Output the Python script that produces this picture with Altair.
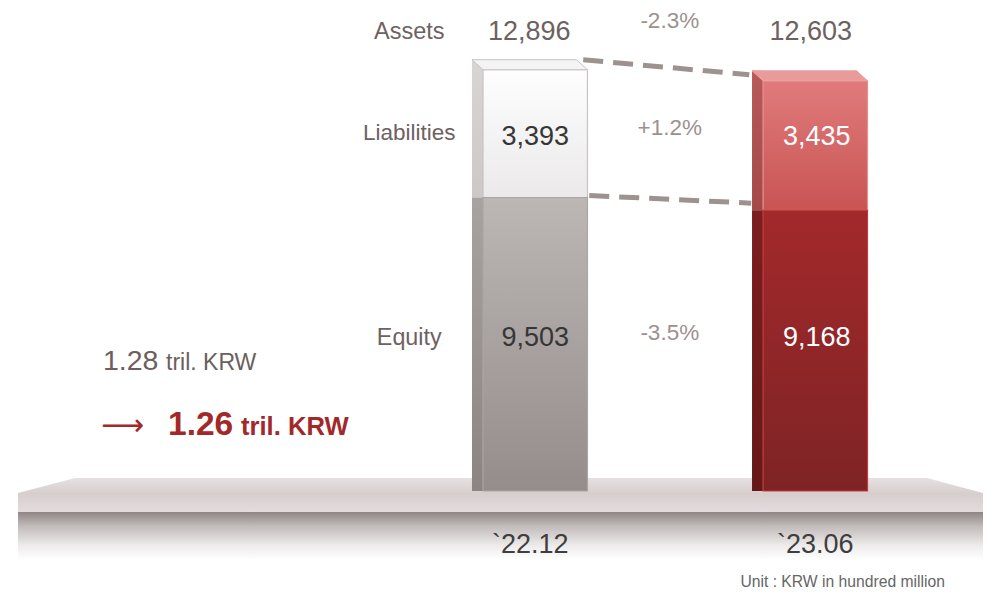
import altair as alt
import pandas as pd

# ---------------- data ----------------
periods = ["`22.12", "`23.06"]
assets = [12896, 12603]
liabilities = [3393, 3435]
equity = [9503, 9168]
row_names = ["Assets", "Liabilities", "Equity"]
changes = ["-2.3%", "+1.2%", "-3.5%"]
before_total = "1.28"
after_total = "1.26"
total_unit = "tril. KRW"
unit_note = "Unit : KRW in hundred million"

# ---------------- layout / style ----------------
W, H = 977, 585
Y_DOMAIN = [-998, 14535]
FLOOR = 1710  # value where the bars meet the platform
FONT = "Liberation Sans, Arial, sans-serif"
BROWN = "#6d625f"
PCT = "#9c918e"

xscale = alt.Scale(type="band", domain=periods, range=[475, 859.5], paddingInner=0.627, paddingOuter=0)
yscale = alt.Scale(domain=Y_DOMAIN, nice=False, zero=False)
X = alt.X("period:N", scale=xscale, axis=None)


def grad(stops, vertical=True):
    return alt.Gradient(
        gradient="linear",
        stops=[alt.GradientStop(color=c, offset=o) for o, c in stops],
        x1=0, x2=0 if vertical else 1, y1=0, y2=1 if vertical else 0,
    )


one = alt.Data(values=[{}])

seg_rows = []
for i, p in enumerate(periods):
    seg_rows.append({"period": p, "segment": "Liabilities", "lo": equity[i], "hi": assets[i],
                     "label": f"{liabilities[i]:,}", "idx": i})
    seg_rows.append({"period": p, "segment": "Equity", "lo": FLOOR, "hi": equity[i],
                     "label": f"{equity[i]:,}", "idx": i})
segs = pd.DataFrame(seg_rows)

styles = {
    (0, "Liabilities"): dict(front=[(0, "#fefefe"), (1, "#ebe9e9")], stroke="#c8c2c1",
                             side=[(0, "#d9d5d4"), (1, "#cdc8c7")]),
    (0, "Equity"): dict(front=[(0, "#bcb6b4"), (1, "#948d8b")], stroke="#aaa4a2",
                        side=[(0, "#a8a2a0"), (1, "#8b8482")]),
    (1, "Liabilities"): dict(front=[(0, "#e07b7b"), (1, "#c95454")], stroke="#e68f8f",
                             side=[(0, "#b65a5a"), (1, "#a44848")]),
    (1, "Equity"): dict(front=[(0, "#a3292b"), (1, "#7e2325")], stroke="#c13b3c",
                        side=[(0, "#7c1e20"), (1, "#661819")]),
}
tops = {0: ("#f5f4f4", "#c8c2c1"), 1: ("#e99b9b", "#eba0a0")}

layers = []

# ---- platform ----
layers.append(
    alt.Chart(one).mark_rect(fill=grad([(0, "#8f8684"), (0.3, "#c2bcbb"), (0.7, "#eeebeb"), (1, "#ffffff")]))
    .encode(x=alt.value(10), x2=alt.value(975), y=alt.value(504), y2=alt.value(552))
)
layers.append(
    alt.Chart(one).mark_rect(fill=grad([(0, "#d6cdcd"), (1, "#e4dcdc")]))
    .encode(x=alt.value(10), x2=alt.value(975), y=alt.value(485), y2=alt.value(504))
)
layers.append(
    alt.Chart(one).mark_point(
        shape="M-0.965,0.015L-0.851,-0.015L0.853,-0.015L0.965,0.015Z",
        filled=True, opacity=1, fill=grad([(0, "#e6e0e0"), (1, "#d8cfcf")]), strokeWidth=0,
    ).encode(x=alt.value(492.5), y=alt.value(477.5), size=alt.value(1000000))
)

# ---- bars ----
for (i, seg), st in styles.items():
    d = segs[(segs.idx == i) & (segs.segment == seg)]
    side_kwargs = dict(width=11, xOffset=-57.75, fill=grad(st["side"]), strokeWidth=0)
    if seg == "Liabilities":
        side_kwargs["yOffset"] = -10
    layers.append(
        alt.Chart(d).mark_bar(**side_kwargs).encode(
            x=X, y=alt.Y("hi:Q", scale=yscale, axis=None), y2="lo:Q")
    )
    layers.append(
        alt.Chart(d).mark_bar(fill=grad(st["front"]), stroke=st["stroke"], strokeWidth=1.2).encode(
            x=X, y=alt.Y("hi:Q", scale=yscale, axis=None), y2="lo:Q")
    )

top_df = pd.DataFrame({"period": periods, "total": assets, "idx": [0, 1]})
for i in (0, 1):
    f, s = tops[i]
    layers.append(
        alt.Chart(top_df[top_df.idx == i]).mark_point(
            shape="M-1.265,-0.2L0.825,-0.2L1.045,0L-1.045,0Z",
            filled=True, opacity=1, fill=f, stroke=s, strokeWidth=1,
        ).encode(x=X, y=alt.Y("total:Q", scale=yscale, axis=None), size=alt.value(10000))
    )

# ---- dashed connectors ----
conn_top = pd.DataFrame({"from": [periods[0]], "to": [periods[1]], "v1": [assets[0]], "v2": [assets[1]]})
conn_mid = pd.DataFrame({"from": [periods[0]], "to": [periods[1]], "v1": [equity[0]], "v2": [equity[1]]})
for df, off in ((conn_top, dict(xOffset=48, x2Offset=-66, yOffset=-10, y2Offset=-6)),
                (conn_mid, dict(xOffset=54, x2Offset=-64, yOffset=-2, y2Offset=-7))):
    layers.append(
        alt.Chart(df).mark_rule(color="#9d928f", strokeWidth=5, strokeDash=[20, 10], **off).encode(
            x=alt.X("from:N", scale=xscale, axis=None), x2="to:N",
            y=alt.Y("v1:Q", scale=yscale, axis=None), y2="v2:Q")
    )

# ---- texts ----
row_y = {"Assets": 24, "Liabilities": 125, "Equity": 330}
pct_y = {"Assets": 13, "Liabilities": 120, "Equity": 325}
cat_size = {"Assets": 23.5, "Liabilities": 22.5, "Equity": 23.3}
NUM = 27

for name in row_names:
    layers.append(
        alt.Chart(pd.DataFrame({"period": [periods[0]], "t": [name]})).mark_text(
            font=FONT, fontSize=cat_size[name], color=BROWN, dx=-126, baseline="middle", align="center"
        ).encode(x=X, y=alt.value(row_y[name]), text="t:N")
    )
for name, c in zip(row_names, changes):
    layers.append(
        alt.Chart(pd.DataFrame({"period": [periods[1]], "t": [c]})).mark_text(
            font=FONT, fontSize=22.5, color=PCT, dx=-145.5, baseline="middle", align="center"
        ).encode(x=X, y=alt.value(pct_y[name]), text="t:N")
    )

# per-period horizontal nudges of the labels
tot_dx = {0: -6, 1: -4.5}
val_dx = {0: 0, 1: 1.5}
per_dx = {0: -5, 1: 0}

for i in (0, 1):
    layers.append(
        alt.Chart(pd.DataFrame({"period": [periods[i]], "t": [f"{assets[i]:,}"]})).mark_text(
            font=FONT, fontSize=NUM, color=BROWN, baseline="middle", dx=tot_dx[i])
        .encode(x=X, y=alt.value(row_y["Assets"]), text="t:N")
    )
    col = "#363636" if i == 0 else "#ffffff"
    for seg in ("Liabilities", "Equity"):
        d = segs[(segs.idx == i) & (segs.segment == seg)]
        layers.append(
            alt.Chart(d).mark_text(font=FONT, fontSize=NUM, color=col, baseline="middle", dx=val_dx[i])
            .encode(x=X, y=alt.value(row_y[seg] + (4 if seg == "Liabilities" else 0)), text="label:N")
        )
    layers.append(
        alt.Chart(pd.DataFrame({"period": [periods[i]]})).mark_text(
            font=FONT, fontSize=NUM, color="#3e3e3e", baseline="middle", dx=per_dx[i])
        .encode(x=X, y=alt.value(537), text="period:N")
    )

layers.append(
    alt.Chart(pd.DataFrame({"t": [unit_note]})).mark_text(
        font=FONT, fontSize=15.7, color="#666666", align="right", baseline="middle")
    .encode(x=alt.value(937), y=alt.value(574), text="t:N")
)

# left annotation
left = [
    (before_total, 95, 362, 28.5, "normal", "#6b605d", FONT),
    (total_unit, 158, 362, 23, "normal", "#6b605d", FONT),
    ("\u27f6", 93, 427, 30, "normal", "#a3282a", "DejaVu Sans"),
    (after_total, 160, 427, 33.5, "bold", "#a3282a", FONT),
    (total_unit, 233, 427, 25.6, "bold", "#a3282a", FONT),
]
for t, x, y, fs, fw, c, fnt in left:
    layers.append(
        alt.Chart(pd.DataFrame({"t": [t]})).mark_text(
            font=fnt, fontSize=fs, fontWeight=fw, color=c, align="left", baseline="alphabetic")
        .encode(x=alt.value(x), y=alt.value(y), text="t:N")
    )

chart = alt.layer(*layers).properties(
    width=W, height=H, padding=0, autosize=alt.AutoSizeParams(type="none")
).configure_view(stroke=None)

chart.save("out.html", embed_options={"renderer": "svg", "actions": False})
